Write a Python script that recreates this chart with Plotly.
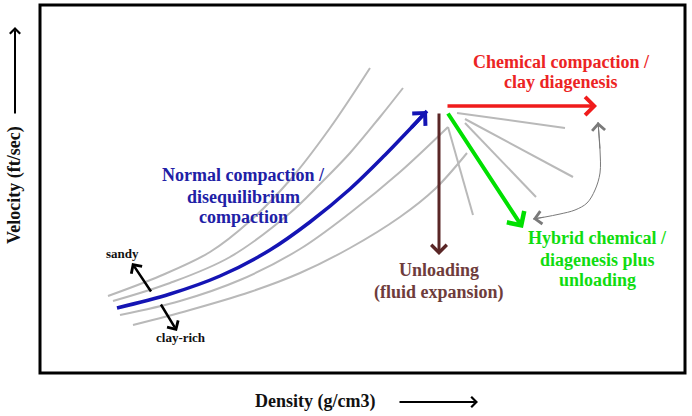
import plotly.graph_objects as go

# Schematic, so the "data" are positions
# (x grows to the right, y grows downwards, same frame as the image).

frame_x = [40, 685]
frame_y = [5, 373]

# family of compaction trends, sandy (top) to clay-rich (bottom)
sandy_x = [108, 160, 210, 250, 290, 330, 370]
sandy_y = [296, 276, 252, 221, 180, 128, 68]
sandy2_x = [113, 170, 230, 290, 320, 350, 380, 403]
sandy2_y = [301, 283, 257, 213, 184, 153, 117, 88]
normal_x = [117, 170, 220, 270, 310, 350, 385, 410, 427]
normal_y = [308, 294, 276, 250, 222, 189, 155, 129, 111]
clay2_x = [120, 180, 240, 300, 350, 400, 448]
clay2_y = [315, 301, 280, 249, 213, 172, 127]
clay_x = [133, 190, 250, 300, 350, 400, 435, 467]
clay_y = [325, 310, 292, 273, 248, 217, 189, 153]

# straight grey fan of the hybrid paths
fan_x0 = [457, 465, 465, 448]
fan_y0 = [113, 119, 123, 127]
fan_x1 = [565, 573, 536, 473]
fan_y1 = [128, 177, 197, 215]

# thin curved two-way arrow between red and green paths
loop_x = [598, 600, 600, 595, 587, 575, 560, 545, 533]
loop_y = [122, 150, 173, 190, 203, 210, 214, 217, 219]

BLUE = "#1414b4"
RED = "#f01c1c"
GREEN = "#00e000"
BROWN = "#5a2626"
GREY = "#b9b9b9"
SERIF = "Liberation Serif"

fig = go.Figure()

for xs, ys in [(sandy_x, sandy_y), (sandy2_x, sandy2_y),
               (clay2_x, clay2_y), (clay_x, clay_y)]:
    fig.add_trace(go.Scatter(x=xs, y=ys, mode="lines",
                             line=dict(color=GREY, width=2, shape="spline"),
                             hoverinfo="skip"))

fan_x, fan_y = [], []
for a, b, c, d in zip(fan_x0, fan_y0, fan_x1, fan_y1):
    fan_x += [a, c, None]
    fan_y += [b, d, None]
fig.add_trace(go.Scatter(x=fan_x, y=fan_y, mode="lines",
                         line=dict(color=GREY, width=2), hoverinfo="skip"))

fig.add_trace(go.Scatter(x=normal_x, y=normal_y, mode="lines",
                         line=dict(color=BLUE, width=3.5, shape="spline"),
                         hoverinfo="skip"))

fig.add_trace(go.Scatter(x=loop_x, y=loop_y, mode="lines",
                         line=dict(color="#7a7a7a", width=1, shape="spline"),
                         hoverinfo="skip"))


def arrow(head, tail, color, width, size=1.0, style=4):
    fig.add_annotation(x=head[0], y=head[1], ax=tail[0], ay=tail[1],
                       xref="x", yref="y", axref="x", ayref="y",
                       text="", showarrow=True, arrowhead=style,
                       arrowsize=size, arrowwidth=width, arrowcolor=color,
                       standoff=0, startstandoff=0)


# heads / straight arrows
arrow((normal_x[-1], normal_y[-1]), (normal_x[-2], normal_y[-2]), BLUE, 3.5)
arrow((597, 106), (446, 106), RED, 3.5)
arrow((439, 255), (439, 112), BROWN, 3)
arrow((523, 228), (447, 112), GREEN, 4)
arrow((loop_x[0], loop_y[0]), (loop_x[1], loop_y[1]), "#7a7a7a", 1, 2.5)
arrow((loop_x[-1], loop_y[-1]), (loop_x[-2], loop_y[-2]), "#7a7a7a", 1, 2.5)

# sandy / clay-rich indicator
arrow((132, 263), (152, 293), "black", 2.5)
arrow((177, 331), (160, 303), "black", 2.5)

# axis direction arrows
arrow((15, 27), (15, 115), "black", 2)
arrow((478, 402), (398, 402), "black", 2)

# frame
fig.add_shape(type="rect", x0=frame_x[0], x1=frame_x[1], y0=frame_y[0], y1=frame_y[1],
              xref="x", yref="y", line=dict(color="black", width=3))


def label(lines, cx, ys, color, size=18):
    for txt, yy in zip(lines, ys):
        fig.add_annotation(x=cx, y=yy, xref="x", yref="y", text="<b>%s</b>" % txt,
                           showarrow=False, xanchor="center", yanchor="middle",
                           font=dict(family=SERIF, size=size, color=color))


label(["Normal compaction /", "disequilibrium", "compaction"], 243, [175, 197, 217], "#2020a6")
label(["Chemical compaction /", "clay diagenesis"], 561, [62, 82], "#ec2424")
label(["Unloading", "(fluid expansion)"], 439, [270, 292], "#6e3c3c")
label(["Hybrid chemical /", "diagenesis plus", "unloading"], 597, [238, 260, 280], "#10dc10")
label(["sandy"], 122, [253], "#111111", 13)
label(["clay-rich"], 181, [337], "#111111", 13)
label(["Density (g/cm3)"], 315, [401], "#111111")

fig.add_annotation(x=14, y=185, xref="x", yref="y", text="<b>Velocity (ft/sec)</b>",
                   textangle=-90, showarrow=False, xanchor="center", yanchor="middle",
                   font=dict(family=SERIF, size=18, color="#111111"))

fig.update_layout(
    width=692, height=416,
    margin=dict(l=0, r=0, t=0, b=0),
    paper_bgcolor="white", plot_bgcolor="white",
    showlegend=False,
    xaxis=dict(range=[0, 692], visible=False, fixedrange=True),
    yaxis=dict(range=[416, 0], visible=False, fixedrange=True),
)

# the page's default body margin would push the figure 8px off the corner
fig.write_html("out.html", config={"displayModeBar": False},
               post_script="document.body.style.margin='0';")
